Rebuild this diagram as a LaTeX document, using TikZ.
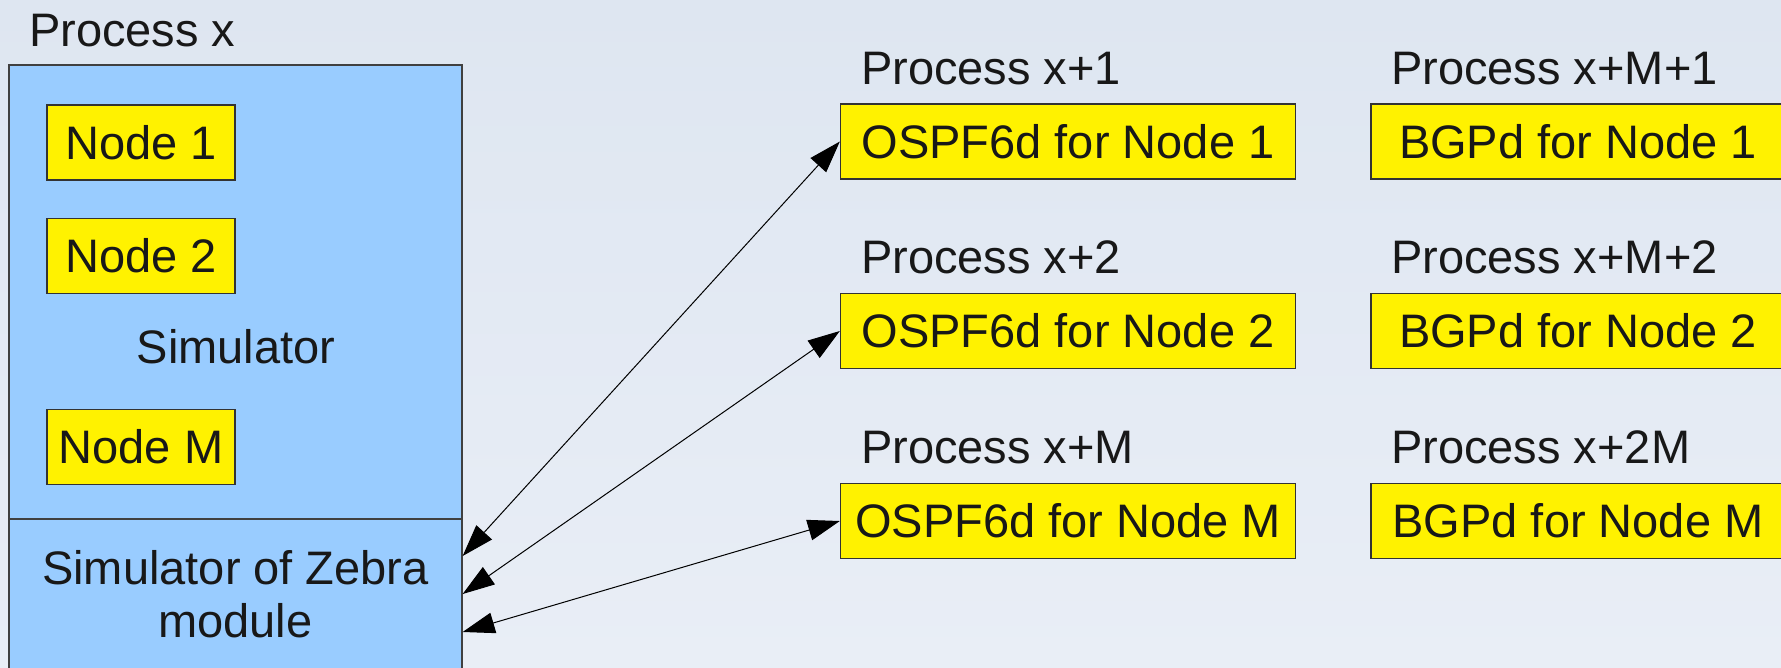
\documentclass[tikz,border=0pt]{standalone}
\usepackage{fontspec}
\setmainfont{Liberation Sans}
\usetikzlibrary{positioning,calc,arrows.meta}
\definecolor{bgtop}{RGB}{222,230,241}
\definecolor{bgbot}{RGB}{233,238,246}
\definecolor{simblue}{RGB}{153,204,255}
\definecolor{ink}{RGB}{24,24,24}

\begin{document}
\begin{tikzpicture}
[
   x=1pt, y=-1pt,
   every node/.style={font=\fontsize{47}{53}\selectfont, text=ink},
   simbox/.style={draw=black!75, fill=simblue, line width=1.3pt, inner sep=0pt},
   ybox/.style={draw=black!80, fill=yellow, line width=1.3pt, inner sep=0pt, minimum height=75pt},
   proc/.style={anchor=base west, inner sep=0pt},
   link/.style={{Triangle[length=32pt,width=21pt]}-{Triangle[length=32pt,width=21pt]}, line width=1pt, black}]
\useasboundingbox (0,0) rectangle (1781,667);
\clip (0,0) rectangle (1781,667);
\shade[top color=bgtop, bottom color=bgbot] (0,0) rectangle (1781,667);

% simulator process
\node (lp) [proc] at (29,46) {Process x};
\node (sim) [simbox, minimum width=453pt, minimum height=454pt] at (235.5,292) {};
\node (zebra) [simbox, minimum width=453pt, minimum height=150pt, align=center] at (235.5,594) {Simulator of Zebra\\module};
\node (simtxt) at (236,347) {Simulator};
\node (n1) [ybox, minimum width=188pt] at (141,142.5) {Node 1};
\node (n2) [ybox, minimum width=188pt, below=37pt of n1] {Node 2};
\node (nM) [ybox, minimum width=188pt, below=115pt of n2] {Node M};

% ospf6d processes
\node (o1) [ybox, minimum width=455pt] at (1068,141.5) {OSPF6d for Node 1};
\node (o2) [ybox, minimum width=455pt] at (1068,331) {OSPF6d for Node 2};
\node (oM) [ybox, minimum width=455pt] at (1068,521) {OSPF6d for Node M};
\node (lo1) [proc] at (861,84) {Process x+1};
\node (lo2) [proc] at (861,273.5) {Process x+2};
\node (loM) [proc] at (861,463.5) {Process x+M};

% bgpd processes
\node (b1) [ybox, minimum width=414pt] at (1578,141.5) {BGPd for Node 1};
\node (b2) [ybox, minimum width=414pt] at (1578,331) {BGPd for Node 2};
\node (bM) [ybox, minimum width=414pt] at (1578,521) {BGPd for Node M};
\node (lb1) [proc] at (1391,84) {Process x+M+1};
\node (lb2) [proc] at (1391,273.5) {Process x+M+2};
\node (lbM) [proc] at (1391,463.5) {Process x+2M};

\coordinate (z1) at ($(zebra.east)+(0,-38)$);
\coordinate (z2) at (zebra.east);
\coordinate (zM) at ($(zebra.east)+(0,38)$);
\draw[link] (z1) -- (o1.west);
\draw[link] (z2) -- (o2.west);
\draw[link] (zM) -- (oM.west);
\end{tikzpicture}
\end{document}
